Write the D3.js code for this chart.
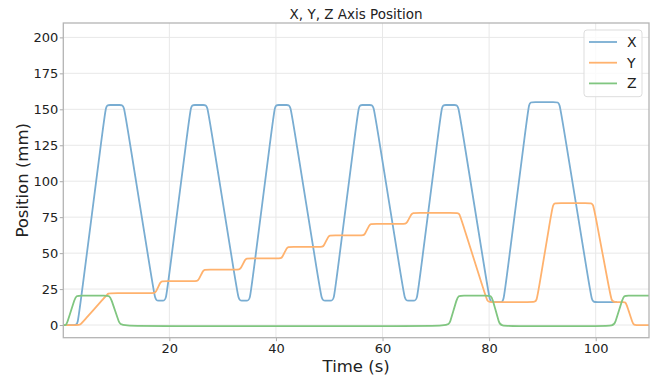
<!DOCTYPE html>
<html>
<head>
<meta charset="utf-8">
<script src="https://d3js.org/d3.v7.min.js"></script>
<style>
  body { margin: 0; background: #fff; }
  svg text { font-family: "DejaVu Sans", sans-serif; fill: #222; }
</style>
</head>
<body>
<div id="chart"></div>
<script>
// [time (s), position (mm)]: the corners, plus points just either side of them
var xPoints = [
  [0, 0], [2.3, 0], [2.8, 0], [3.3, 14.5], [7.6, 138.5], [8.1, 153], [8.6, 153],
  [10.95, 153], [11.45, 153], [12.05, 139.2], [16.75, 30.8], [17.35, 17], [17.85, 17],
  [18.85, 17], [19.35, 17], [19.85, 31.5], [23.55, 138.5], [24.05, 153], [24.55, 153],
  [26.6, 153], [27.1, 153], [27.7, 139.2], [32.4, 30.8], [33.0, 17], [33.5, 17],
  [34.6, 17], [35.1, 17], [35.6, 31.5], [39.3, 138.5], [39.8, 153], [40.3, 153],
  [42.2, 153], [42.7, 153], [43.3, 139.2], [48.0, 30.8], [48.6, 17], [49.1, 17],
  [50.35, 17], [50.85, 17], [51.35, 31.5], [55.05, 138.5], [55.55, 153], [56.05, 153],
  [57.8, 153], [58.3, 153], [58.9, 139.2], [63.6, 30.8], [64.2, 17], [64.7, 17],
  [65.95, 17], [66.45, 17], [66.95, 31.5], [70.65, 138.5], [71.15, 153], [71.65, 153],
  [73.7, 153], [74.2, 153], [74.8, 139.2], [79.55, 29.8], [80.15, 16], [80.65, 16],
  [82.2, 16], [82.7, 16], [83.2, 30.5], [87.0, 140.5], [87.5, 155], [88.0, 155],
  [92.7, 155], [93.2, 155], [93.8, 141.3], [98.7, 29.7], [99.3, 16], [99.8, 16], [104, 16]
];
var yPoints = [
  [0, 0], [2.75, 0], [3.25, 0], [3.75, 2.1], [8.06, 20.1], [8.56, 22.2], [9.06, 22.2],
  [17.15, 22.2], [17.4, 22.2], [18.4, 30.6], [18.65, 30.6],
  [25.15, 30.6], [25.4, 30.6], [26.4, 38.5], [26.65, 38.5],
  [33.05, 38.5], [33.3, 38.5], [34.3, 46.3], [34.55, 46.3],
  [40.85, 46.3], [41.1, 46.3], [42.1, 54.3], [42.35, 54.3],
  [48.65, 54.3], [48.9, 54.3], [49.9, 62.3], [50.15, 62.3],
  [56.35, 62.3], [56.6, 62.3], [57.6, 70.3], [57.85, 70.3],
  [64.25, 70.3], [64.5, 70.3], [65.5, 78], [65.75, 78],
  [73.9, 78], [74.4, 78], [74.9, 72.1], [79.2, 21.9], [79.7, 16], [80.2, 16],
  [88.4, 16], [88.9, 16], [89.4, 27.1], [91.5, 73.7], [92.0, 84.8], [92.5, 84.8],
  [99.0, 84.8], [99.5, 84.8], [100.0, 75], [102.5, 25.8], [103.0, 16], [103.5, 16],
  [105.4, 16], [105.7, 16], [107.0, 0], [107.3, 0], [110, 0]
];
var zPoints = [
  [0, 0], [0.5, 0], [0.75, 0], [2.4, 20.5], [2.65, 20.5], [8.65, 20.5], [8.9, 20.5],
  [10.75, -0.7], [11.0, -0.7], [72.25, -0.7], [72.5, -0.7], [74.1, 20.5], [74.35, 20.5],
  [80.25, 20.5], [80.5, 20.5], [82.0, -0.7], [82.25, -0.7], [103.25, -0.7], [103.5, -0.7],
  [105.2, 20.5], [105.45, 20.5], [110, 20.5]
];
var seriesNames = ["X", "Y", "Z"];
var seriesColors = ["#79add2", "#ffb26e", "#80c680"];
var xTicks = [20, 40, 60, 80, 100];
var yTicks = [0, 25, 50, 75, 100, 125, 150, 175, 200];

var width = 654, height = 379;
var margin = {top: 23, right: 5, bottom: 41.3, left: 63.3};
var plotW = width - margin.left - margin.right,
    plotH = height - margin.top - margin.bottom;

var svg = d3.select("#chart").append("svg")
  .attr("width", width)
  .attr("height", height);

var g = svg.append("g")
  .attr("transform", "translate(" + margin.left + "," + margin.top + ")");

var x = d3.scaleLinear().domain([0.1, 110]).range([0, plotW]);
var y = d3.scaleLinear().domain([-8.8, 210]).range([plotH, 0]);

// grid
g.append("g").selectAll("line").data(xTicks).enter().append("line")
  .attr("x1", function(d) { return x(d); }).attr("x2", function(d) { return x(d); })
  .attr("y1", 0).attr("y2", plotH)
  .style("stroke", "#e8e8e8").style("stroke-width", 1);
g.append("g").selectAll("line").data(yTicks).enter().append("line")
  .attr("y1", function(d) { return y(d); }).attr("y2", function(d) { return y(d); })
  .attr("x1", 0).attr("x2", plotW)
  .style("stroke", "#e8e8e8").style("stroke-width", 1);

// axes
var xAxis = g.append("g")
  .attr("transform", "translate(0," + plotH + ")")
  .call(d3.axisBottom(x).tickValues(xTicks).tickSize(3.5).tickPadding(3));
var yAxis = g.append("g")
  .call(d3.axisLeft(y).tickValues(yTicks).tickSize(3.5).tickPadding(1.5));
[xAxis, yAxis].forEach(function(a) {
  a.select(".domain").remove();
  a.selectAll(".tick line").style("stroke", "#aaa");
  a.selectAll(".tick text").style("font-size", "13px").style("fill", "#222")
    .style("font-family", "DejaVu Sans, sans-serif");
});

// lines
g.append("clipPath").attr("id", "clip").append("rect")
  .attr("width", plotW).attr("height", plotH);

var line = d3.line()
  .x(function(d) { return x(d[0]); })
  .y(function(d) { return y(d[1]); })
  .curve(d3.curveBasis);

[xPoints, yPoints, zPoints].forEach(function(pts, i) {
  g.append("path")
    .datum(pts)
    .attr("clip-path", "url(#clip)")
    .attr("d", line)
    .style("fill", "none")
    .style("stroke", seriesColors[i])
    .style("stroke-width", 1.8);
});

// frame
g.append("rect")
  .attr("width", plotW).attr("height", plotH)
  .style("fill", "none").style("stroke", "#b4b4b4").style("stroke-width", 1.3);

// legend
var legend = g.append("g").attr("transform", "translate(" + (584 - margin.left) + "," + (30 - margin.top) + ")");
legend.append("rect")
  .attr("width", 58).attr("height", 66.7).attr("rx", 3)
  .style("fill", "#fff").style("fill-opacity", 0.8)
  .style("stroke", "#ddd").style("stroke-width", 1);
seriesNames.forEach(function(name, i) {
  var ly = 12 + i * 20.7;
  legend.append("line")
    .attr("x1", 5).attr("x2", 33).attr("y1", ly).attr("y2", ly)
    .style("stroke", seriesColors[i]).style("stroke-width", 1.8);
  legend.append("text")
    .attr("x", 43).attr("y", ly).attr("dy", "0.35em")
    .style("font-size", "14px")
    .text(name);
});

// title and labels
svg.append("text")
  .attr("x", margin.left + plotW / 2).attr("y", 19.3)
  .style("text-anchor", "middle").style("font-size", "13.5px")
  .text("X, Y, Z Axis Position");

svg.append("text")
  .attr("x", margin.left + plotW / 2).attr("y", 371.5)
  .style("text-anchor", "middle").style("font-size", "16.5px")
  .text("Time (s)");

svg.append("text")
  .attr("transform", "rotate(-90)")
  .attr("x", -(margin.top + plotH / 2)).attr("y", 28.3)
  .style("text-anchor", "middle").style("font-size", "16.5px")
  .text("Position (mm)");
</script>
</body>
</html>
